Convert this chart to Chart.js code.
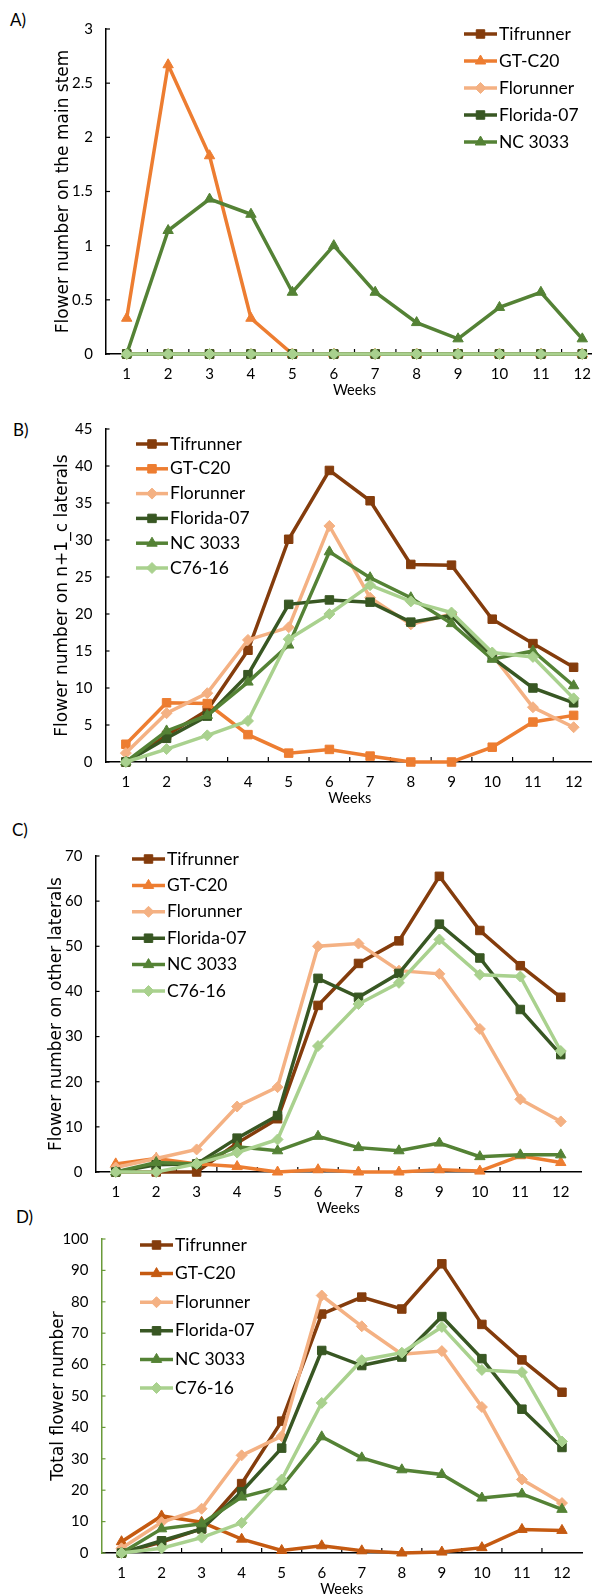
<!DOCTYPE html>
<html>
<head>
<meta charset="utf-8">
<script src="https://cdn.jsdelivr.net/npm/chart.js@4.4.0/dist/chart.umd.min.js"></script>
<style>
  html, body { margin: 0; padding: 0; width: 592px; height: 1594px; overflow: hidden; background: #fff; }
  canvas { position: absolute; left: 0; }
  .tag { position: absolute; font: 17px Lato, sans-serif; line-height: 1; color: #000; }
</style>
</head>
<body>
<div class="tag" style="left:10px;top:11px">A)</div>
<div class="tag" style="left:13px;top:421px">B)</div>
<div class="tag" style="left:12px;top:821px">C)</div>
<div class="tag" style="left:16px;top:1208px">D)</div>
<canvas id="chartA"></canvas>
<canvas id="chartB"></canvas>
<canvas id="chartC"></canvas>
<canvas id="chartD"></canvas>
<script>
const weeks = ['1', '2', '3', '4', '5', '6', '7', '8', '9', '10', '11', '12'];

// A) flowers on the main stem
const aTifrunner = [0, 0, 0, 0, 0, 0, 0, 0, 0, 0, 0, 0];
const aGTC20     = [0.33, 2.67, 1.83, 0.33, 0, 0, 0, 0, 0, 0, 0, 0];
const aFlorunner = [0, 0, 0, 0, 0, 0, 0, 0, 0, 0, 0, 0];
const aFlorida07 = [0, 0, 0, 0, 0, 0, 0, 0, 0, 0, 0, 0];
const aNC3033    = [0, 1.14, 1.43, 1.29, 0.57, 1.0, 0.57, 0.29, 0.14, 0.43, 0.57, 0.14];
const aC7616     = [0, 0, 0, 0, 0, 0, 0, 0, 0, 0, 0, 0];
const aTicks = [0, 0.5, 1, 1.5, 2, 2.5, 3];

// B) flowers on n+1_c laterals
const bTifrunner = [0, 3.6, 7.0, 15.1, 30.1, 39.4, 35.3, 26.7, 26.6, 19.3, 16.0, 12.8];
const bGTC20     = [2.4, 8.0, 7.9, 3.7, 1.2, 1.7, 0.8, 0, 0, 2.0, 5.4, 6.3];
const bFlorunner = [1.2, 6.6, 9.3, 16.5, 18.2, 31.9, 22.2, 18.6, 20.0, 14.5, 7.4, 4.7];
const bFlorida07 = [0, 3.2, 6.2, 11.8, 21.3, 21.9, 21.6, 18.9, 19.8, 14.1, 10.0, 8.0];
const bNC3033    = [0, 4.2, 6.3, 10.8, 15.8, 28.4, 24.9, 22.2, 18.7, 13.9, 15.0, 10.3];
const bC7616     = [0, 1.75, 3.6, 5.55, 16.6, 20.0, 23.9, 21.7, 20.2, 14.8, 14.2, 8.6];
const bTicks = [0, 5, 10, 15, 20, 25, 30, 35, 40, 45];

// C) flowers on other laterals
const cTifrunner = [0, 0, 0, 6.4, 11.8, 36.9, 46.2, 51.2, 65.5, 53.5, 45.7, 38.7];
const cGTC20     = [1.8, 3.0, 1.8, 1.2, 0, 0.5, 0, 0, 0.5, 0.2, 3.6, 2.1];
const cFlorunner = [1.0, 3.0, 5.0, 14.5, 18.8, 50.0, 50.6, 44.6, 43.9, 31.7, 16.1, 11.2];
const cFlorida07 = [0, 1.6, 1.8, 7.5, 12.5, 42.9, 38.7, 44.0, 54.9, 47.4, 36.0, 26.0];
const cNC3033    = [0, 2.1, 1.8, 5.6, 4.7, 7.9, 5.4, 4.7, 6.4, 3.4, 3.8, 3.8];
const cC7616     = [0, 0, 1.8, 4.3, 7.2, 27.9, 37.2, 41.9, 51.5, 43.7, 43.3, 26.8];
const cTicks = [0, 10, 20, 30, 40, 50, 60, 70];

// D) total flowers
const dTifrunner = [0, 3.5, 7.7, 22.1, 42.0, 76.1, 81.5, 77.7, 92.1, 72.8, 61.5, 51.2];
const dGTC20     = [3.6, 11.8, 9.8, 4.4, 0.8, 2.3, 0.7, 0, 0.3, 1.7, 7.5, 7.2];
const dFlorunner = [1.5, 9.8, 14.1, 31.1, 37.2, 82.0, 72.2, 63.3, 64.3, 46.5, 23.4, 15.9];
const dFlorida07 = [0, 3.9, 7.7, 19.5, 33.4, 64.5, 59.7, 62.4, 75.3, 61.9, 45.8, 33.6];
const dNC3033    = [0, 7.7, 9.3, 17.8, 21.1, 37.0, 30.3, 26.5, 25.0, 17.5, 18.8, 13.9];
const dC7616     = [0, 1.5, 4.9, 9.6, 23.4, 47.8, 61.4, 63.8, 72.0, 58.3, 57.6, 35.5];
const dTicks = [0, 10, 20, 30, 40, 50, 60, 70, 80, 90, 100];

const TIF = '#843C0C', GT = '#ED7D31', GT_D = '#C55A11', FLO = '#F4B183',
      F07 = '#385723', NC = '#548235', C76 = '#A9D18E';

function series(label, data, color, style, noLegend) {
  return {
    label, data, noLegend,
    borderColor: color, backgroundColor: color,
    pointStyle: style, pointRadius: style === 'rectRot' ? 5.5 : 6,
    pointBorderWidth: 1, pointBorderColor: color, pointBackgroundColor: color,
    borderWidth: 3.5, tension: 0, clip: false
  };
}

// inner tick marks + legend with line and marker
const panelExtras = {
  id: 'panelExtras',
  beforeDatasetsDraw(chart, args, opts) {
    const ctx = chart.ctx, a = chart.chartArea;
    const x = chart.scales.x, y = chart.scales.y;
    ctx.save();
    ctx.lineWidth = 1.2;
    ctx.strokeStyle = opts.yColor;
    y.ticks.forEach((t, i) => {
      const py = y.getPixelForTick(i);
      ctx.beginPath(); ctx.moveTo(a.left, py); ctx.lineTo(a.left + 4, py); ctx.stroke();
    });
    ctx.strokeStyle = '#000';
    for (let i = 1; i < weeks.length; i++) {
      const px = (x.getPixelForValue(i - 1) + x.getPixelForValue(i)) / 2;
      ctx.beginPath(); ctx.moveTo(px, a.bottom); ctx.lineTo(px, a.bottom - 5); ctx.stroke();
    }
    ctx.restore();
  },
  afterDraw(chart, args, opts) {
    const ctx = chart.ctx, lg = opts.legend;
    ctx.save();
    ctx.font = '17.5px Lato';
    ctx.textBaseline = 'middle';
    let k = 0;
    chart.data.datasets.forEach(ds => {
      if (ds.noLegend) return;
      const yy = lg.y0 + lg.dy * k - opts.canvasTop;
      k++;
      ctx.strokeStyle = ds.borderColor;
      ctx.lineWidth = ds.borderWidth;
      ctx.beginPath(); ctx.moveTo(lg.x0, yy); ctx.lineTo(lg.x1, yy); ctx.stroke();
      ctx.fillStyle = ds.borderColor;
      ctx.lineWidth = 1;
      Chart.helpers.drawPoint(ctx, { pointStyle: ds.pointStyle, radius: ds.pointRadius, borderWidth: 1, rotation: 0 }, (lg.x0 + lg.x1) / 2, yy);
      ctx.fillStyle = '#000';
      ctx.fillText(ds.label, lg.x1 + 2, yy);
    });
    ctx.restore();
  }
};

function makePanel(id, cfg) {
  const cv = document.getElementById(id);
  const canvasTop = cfg.top - 12;
  cv.width = Math.ceil(cfg.right) + 4;
  cv.height = Math.round(cfg.bottom - canvasTop + 45);
  cv.style.top = canvasTop + 'px';
  const sets = cfg.datasets.map((d, i) => Object.assign(d, { order: 10 - i }));
  new Chart(cv, {
    type: 'line',
    data: { labels: weeks, datasets: sets },
    options: {
      responsive: false, animation: false, devicePixelRatio: 1,
      layout: { padding: { top: 12, right: cv.width - cfg.right, left: 0, bottom: 0 } },
      plugins: {
        legend: { display: false }, tooltip: { enabled: false },
        panelExtras: { legend: cfg.legend, canvasTop, yColor: cfg.yColor || '#000' }
      },
      scales: {
        x: {
          type: 'category', offset: true,
          grid: { display: false, drawTicks: false },
          border: { display: true, color: '#000', width: 1.5 },
          ticks: { font: { family: 'Lato', size: 15 }, color: '#000', padding: 11, autoSkip: false, maxRotation: 0 },
          title: { display: true, text: 'Weeks', color: '#000', font: { family: 'Lato', size: 14.5 }, padding: { top: 0, bottom: 0 } },
          afterFit: s => { s.height = 45; }
        },
        y: {
          min: cfg.ticks[0], max: cfg.ticks[cfg.ticks.length - 1],
          grid: { display: false, drawTicks: false },
          border: { display: true, color: cfg.yColor || '#000', width: 1.5 },
          ticks: { font: { family: 'Lato', size: 15 }, color: '#000', padding: 13, callback: v => String(v) },
          afterBuildTicks: s => { s.ticks = cfg.ticks.map(v => ({ value: v })); },
          title: { display: true, text: cfg.yTitle, color: '#000', font: { family: 'DejaVu Sans', size: 17 }, padding: { top: cfg.titleX - 10.2, bottom: 0 } },
          afterFit: s => { s.width = cfg.left; }
        }
      }
    },
    plugins: [panelExtras]
  });
}

makePanel('chartA', {
  left: 106, right: 606, top: 19, bottom: 354, titleX: 64,
  yTitle: 'Flower number on the main stem', ticks: aTicks,
  legend: { x0: 464, x1: 497, y0: 34, dy: 27 },
  datasets: [
    series('Tifrunner', aTifrunner, TIF, 'rect'),
    series('GT-C20', aGTC20, GT, 'triangle'),
    series('Florunner', aFlorunner, FLO, 'rectRot'),
    series('Florida-07', aFlorida07, F07, 'rect'),
    series('NC 3033', aNC3033, NC, 'triangle'),
    series('C76-16', aC7616, C76, 'rectRot', true)
  ]
});

makePanel('chartB', {
  left: 105.5, right: 597, top: 419, bottom: 762, titleX: 62.5,
  yTitle: 'Flower number on n+1_c laterals', ticks: bTicks,
  legend: { x0: 136, x1: 168, y0: 444, dy: 24.8 },
  datasets: [
    series('Tifrunner', bTifrunner, TIF, 'rect'),
    series('GT-C20', bGTC20, GT, 'rect'),
    series('Florunner', bFlorunner, FLO, 'rectRot'),
    series('Florida-07', bFlorida07, F07, 'rect'),
    series('NC 3033', bNC3033, NC, 'triangle'),
    series('C76-16', bC7616, C76, 'rectRot')
  ]
});

makePanel('chartC', {
  left: 95.5, right: 584, top: 846, bottom: 1172, titleX: 57,
  yTitle: 'Flower number on other laterals', ticks: cTicks,
  legend: { x0: 132, x1: 165, y0: 859, dy: 26.4 },
  datasets: [
    series('Tifrunner', cTifrunner, TIF, 'rect'),
    series('GT-C20', cGTC20, GT, 'triangle'),
    series('Florunner', cFlorunner, FLO, 'rectRot'),
    series('Florida-07', cFlorida07, F07, 'rect'),
    series('NC 3033', cNC3033, NC, 'triangle'),
    series('C76-16', cC7616, C76, 'rectRot')
  ]
});

makePanel('chartD', {
  left: 101.5, right: 585, top: 1229, bottom: 1553, titleX: 58.5, yColor: '#6A9A3A',
  yTitle: 'Total flower number', ticks: dTicks,
  legend: { x0: 140, x1: 173, y0: 1245, dy: 28.6 },
  datasets: [
    series('Tifrunner', dTifrunner, TIF, 'rect'),
    series('GT-C20', dGTC20, GT_D, 'triangle'),
    series('Florunner', dFlorunner, FLO, 'rectRot'),
    series('Florida-07', dFlorida07, F07, 'rect'),
    series('NC 3033', dNC3033, NC, 'triangle'),
    series('C76-16', dC7616, C76, 'rectRot')
  ]
});
</script>
</body>
</html>
